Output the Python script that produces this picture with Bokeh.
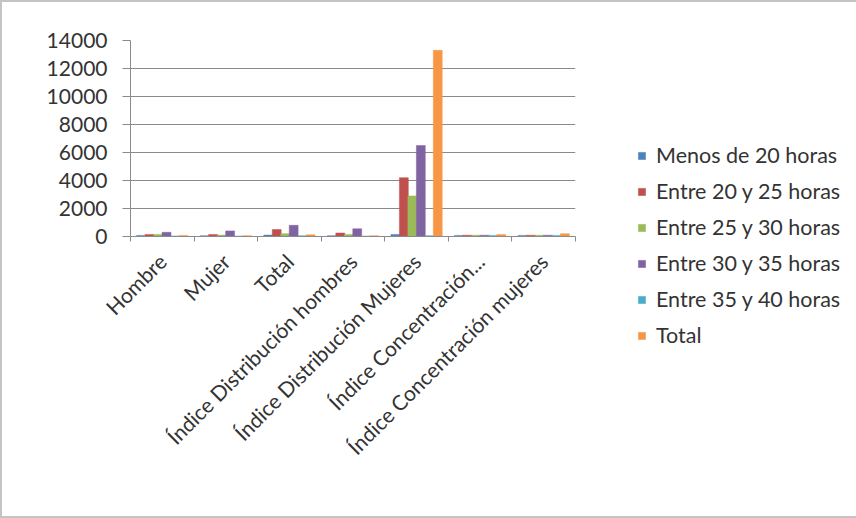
import math
from bokeh.plotting import figure
from bokeh.models import FixedTicker, Range1d, Legend, LegendItem, ColumnDataSource
from bokeh.embed import file_html
from bokeh.resources import INLINE

categories = ["Hombre", "Mujer", "Total", "Índice Distribución hombres",
              "Índice Distribución Mujeres", "Índice Concentración...",
              "Índice Concentración mujeres"]
series_names = ["Menos de 20 horas", "Entre 20 y 25 horas", "Entre 25 y 30 horas",
                "Entre 30 y 35 horas", "Entre 35 y 40 horas", "Total"]
menos_20 = [80, 60, 100, 60, 150, 80, 80]
entre_20_25 = [150, 150, 500, 250, 4200, 90, 90]
entre_25_30 = [150, 100, 200, 150, 2900, 90, 90]
entre_30_35 = [300, 400, 800, 550, 6500, 90, 90]
entre_35_40 = [40, 30, 60, 30, 60, 80, 80]
total = [80, 60, 120, 60, 13300, 150, 200]
series_values = [menos_20, entre_20_25, entre_25_30, entre_30_35, entre_35_40, total]
colors = ["#4F81BD", "#C0504D", "#9BBB59", "#8064A2", "#4BACC6", "#F79646"]
y_ticks = [0, 2000, 4000, 6000, 8000, 10000, 12000, 14000]

FONT = "Lato"
TEXT = "#333333"
GRID = "#8a8a8a"

n = len(categories)
p = figure(frame_width=445, frame_height=196, output_backend="svg", toolbar_location=None,
           x_range=Range1d(0, n), y_range=Range1d(0, 14000),
           min_border_left=128, min_border_right=279, min_border_top=38,
           min_border_bottom=280)
p.styles = {"border": "2px solid #c4c4c4"}
p.outline_line_color = None
p.background_fill_color = "white"
p.border_fill_color = "white"

bw = 1.0 / 7.5
renderers = []
for j, (name, vals, col) in enumerate(zip(series_names, series_values, colors)):
    xs = [i + 0.5 + (j - 2.5) * bw for i in range(n)]
    src = ColumnDataSource(dict(x=xs, top=vals))
    r = p.vbar(x="x", top="top", width=bw * 1.05, source=src, fill_color=col,
               line_color=col, line_width=0.5)
    renderers.append((name, r))

# x axis
xa = p.xaxis[0]
xa.ticker = FixedTicker(ticks=[i + 0.5 for i in range(n)],
                        minor_ticks=[float(i) for i in range(n + 1)])
xa.major_label_overrides = {i + 0.5: c for i, c in enumerate(categories)}
xa.major_tick_out = 0
xa.major_tick_in = 0
xa.minor_tick_out = 5
xa.minor_tick_in = 0
xa.minor_tick_line_color = GRID
xa.axis_line_color = GRID
xa.major_label_orientation = math.pi / 4
xa.major_label_standoff = 16
xa.major_label_text_font = FONT
xa.major_label_text_font_size = "21px"
xa.major_label_text_color = TEXT

# y axis
ya = p.yaxis[0]
ya.ticker = FixedTicker(ticks=y_ticks)
ya.minor_tick_line_color = None
ya.major_tick_out = 8
ya.major_tick_in = 0
ya.major_tick_line_color = GRID
ya.axis_line_color = GRID
ya.major_label_standoff = 15
ya.major_label_text_font = FONT
ya.major_label_text_font_size = "21px"
ya.major_label_text_color = TEXT

p.xgrid.grid_line_color = None
p.ygrid.grid_line_color = GRID
p.ygrid.grid_line_width = 1.2

legend = Legend(items=[LegendItem(label=nm, renderers=[r]) for nm, r in renderers],
                location=(62, -117), orientation="vertical")
legend.border_line_color = None
legend.background_fill_alpha = 0
legend.margin = 0
legend.padding = 0
legend.spacing = 0
legend.glyph_width = 9
legend.glyph_height = 9
legend.label_height = 36
legend.label_standoff = 10
legend.label_text_font = FONT
legend.label_text_font_size = "21.5px"
legend.label_text_color = TEXT
legend.label_text_baseline = "middle"
p.add_layout(legend, "right")

open("out.html", "w").write(file_html(p, INLINE))
